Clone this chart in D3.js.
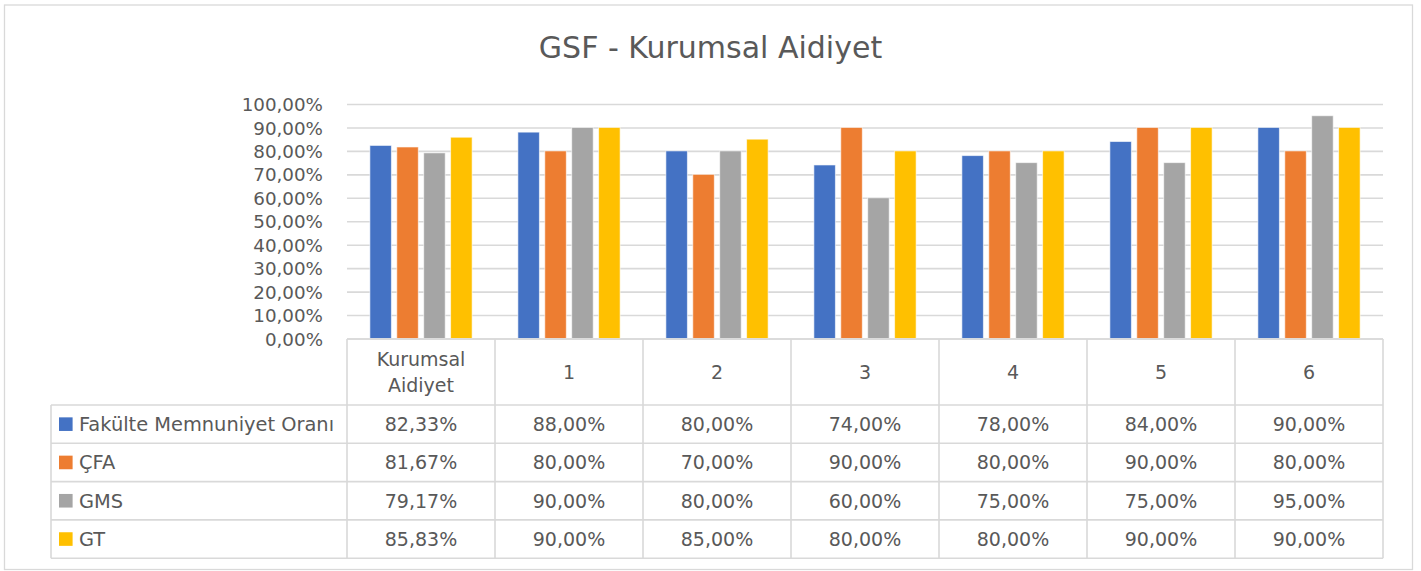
<!DOCTYPE html>
<html>
<head>
<meta charset="utf-8">
<script src="https://cdn.jsdelivr.net/npm/d3@7"></script>
<style>
  html, body { margin: 0; padding: 0; background: #fff; }
  svg { display: block; font-family: "DejaVu Sans", sans-serif; }
</style>
</head>
<body>
<div id="chart"></div>
<script>
const title = "GSF - Kurumsal Aidiyet"
const categories = ["Kurumsal Aidiyet", "1", "2", "3", "4", "5", "6"]
const seriesNames = ["Fakülte Memnuniyet Oranı", "ÇFA", "GMS", "GT"]
const fakulte = [0.8233, 0.88, 0.80, 0.74, 0.78, 0.84, 0.90]
const cfa = [0.8167, 0.80, 0.70, 0.90, 0.80, 0.90, 0.80]
const gms = [0.7917, 0.90, 0.80, 0.60, 0.75, 0.75, 0.95]
const gt = [0.8583, 0.90, 0.85, 0.80, 0.80, 0.90, 0.90]
const yTicks = [0, 0.1, 0.2, 0.3, 0.4, 0.5, 0.6, 0.7, 0.8, 0.9, 1.0]
const colors = ["#4472C4", "#ED7D31", "#A5A5A5", "#FFC000"]

const seriesValues = [fakulte, cfa, gms, gt]

const width = 1421
const height = 571
const plot = {left: 347, right: 1383, top: 104, bottom: 338.5}
const table = {left: 51, headerTop: 339, headerBottom: 405, rowHeight: 38.3}
const gridColor = "#D9D9D9"
const textColor = "#595959"

const locale = d3.formatLocale({decimal: ",", thousands: ".", grouping: [3], currency: ["", " ₺"], percent: "%"})
const pct = locale.format(".2%")

const x0 = d3.scaleBand()
    .domain(categories)
    .range([plot.left, plot.right])
    .padding(0)

const x1 = d3.scaleBand()
    .domain(seriesNames)
    .range([0, x0.bandwidth()])
    .paddingInner(0.2)
    .paddingOuter(0.85)

const y = d3.scaleLinear()
    .domain([0, 1])
    .range([plot.bottom, plot.top])

const svg = d3.select("#chart")
    .append("svg")
    .attr("width", width)
    .attr("height", height)

// outer frame
svg.append("rect")
    .attr("x", 4.5)
    .attr("y", 5)
    .attr("width", 1408)
    .attr("height", 564.5)
    .attr("fill", "#fff")
    .attr("stroke", gridColor)
    .attr("stroke-width", 1.3)

svg.append("text")
    .attr("x", 710.5)
    .attr("y", 57.5)
    .attr("text-anchor", "middle")
    .attr("font-size", 30)
    .attr("fill", textColor)
    .text(title)

// y axis with gridlines
const yAxis = svg.append("g")
    .attr("class", "y-axis")
    .attr("transform", `translate(${plot.left}, 0)`)
    .call(d3.axisLeft(y)
        .tickValues(yTicks)
        .tickSize(-(plot.right - plot.left))
        .tickPadding(24)
        .tickFormat(pct))

yAxis.select(".domain").remove()
yAxis.selectAll(".tick line")
    .attr("stroke", gridColor)
    .attr("stroke-width", 1.6)
yAxis.selectAll(".tick text")
    .attr("font-size", 18.3)
    .attr("font-family", "DejaVu Sans, sans-serif")
    .attr("fill", textColor)
    .attr("dy", "0.36em")

// bars
const groups = svg.append("g")
    .selectAll("g")
    .data(categories)
    .join("g")
    .attr("transform", d => `translate(${x0(d)}, 0)`)

groups.selectAll("rect")
    .data((c, i) => seriesNames.map((s, j) => ({series: s, value: seriesValues[j][i], color: colors[j]})))
    .join("rect")
    .attr("x", d => x1(d.series))
    .attr("y", d => y(d.value))
    .attr("width", x1.bandwidth())
    .attr("height", d => y(0) - y(d.value))
    .attr("fill", d => d.color)
    .attr("stroke", "rgba(255,255,255,0.6)")
    .attr("stroke-width", 1)

// data table
const rowTop = i => table.headerBottom + i * table.rowHeight
const tableBottom = rowTop(seriesNames.length)
const grid = svg.append("g")
    .attr("stroke", gridColor)
    .attr("stroke-width", 1.6)
    .attr("fill", "none")

grid.append("line")
    .attr("x1", plot.left).attr("x2", plot.right)
    .attr("y1", table.headerTop).attr("y2", table.headerTop)

grid.selectAll("line.row")
    .data(d3.range(seriesNames.length + 1))
    .join("line")
    .attr("class", "row")
    .attr("x1", table.left).attr("x2", plot.right)
    .attr("y1", rowTop).attr("y2", rowTop)

grid.selectAll("line.col")
    .data(categories.concat(["end"]))
    .join("line")
    .attr("class", "col")
    .attr("x1", d => d === "end" ? plot.right : x0(d))
    .attr("x2", d => d === "end" ? plot.right : x0(d))
    .attr("y1", table.headerTop).attr("y2", tableBottom)

grid.append("line")
    .attr("x1", table.left).attr("x2", table.left)
    .attr("y1", table.headerBottom).attr("y2", tableBottom)

// header labels
const headerMid = (table.headerTop + table.headerBottom) / 2
const header = svg.append("g")
    .attr("font-size", 19)
    .attr("fill", textColor)
    .attr("text-anchor", "middle")

header.selectAll("text")
    .data(categories)
    .join("text")
    .attr("x", d => x0(d) + x0.bandwidth() / 2)
    .attr("y", d => headerMid + 7)
    .each(function (d) {
        const words = d.split(" ")
        const t = d3.select(this)
        if (words.length === 1) {
            t.text(d)
        } else {
            words.forEach((w, k) => {
                t.append("tspan")
                    .attr("x", x0(d) + x0.bandwidth() / 2)
                    .attr("dy", k === 0 ? "-0.7em" : "1.4em")
                    .text(w)
            })
        }
    })

// rows
const rows = svg.append("g")
    .selectAll("g")
    .data(seriesNames)
    .join("g")
    .attr("transform", (d, i) => `translate(0, ${rowTop(i) + table.rowHeight / 2})`)

rows.append("rect")
    .attr("x", 59)
    .attr("y", -6.8)
    .attr("width", 13.6)
    .attr("height", 13.6)
    .attr("fill", (d, i) => colors[i])

rows.append("text")
    .attr("x", 79)
    .attr("y", 7)
    .attr("font-size", 19.4)
    .attr("fill", textColor)
    .text(d => d)

rows.selectAll("text.val")
    .data((d, i) => seriesValues[i].map((v, k) => ({v, c: categories[k]})))
    .join("text")
    .attr("class", "val")
    .attr("x", d => x0(d.c) + x0.bandwidth() / 2)
    .attr("y", 7)
    .attr("text-anchor", "middle")
    .attr("font-size", 19)
    .attr("fill", textColor)
    .text(d => pct(d.v))
</script>
</body>
</html>
